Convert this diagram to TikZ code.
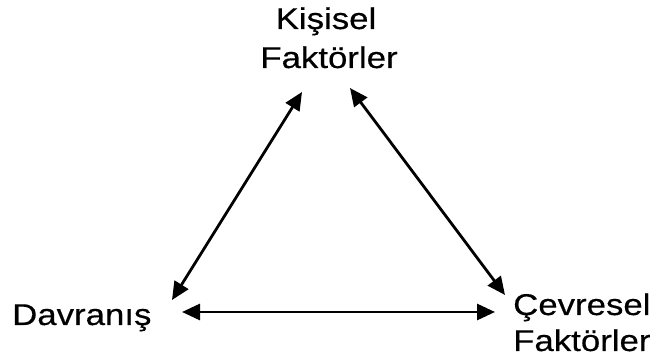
\documentclass[tikz,border=0pt]{standalone}
\usepackage{fontspec}
\setmainfont{Liberation Sans}[FakeStretch=1.16,FakeBold=0.4]
\usetikzlibrary{arrows.meta}
\begin{document}
\begin{tikzpicture}[x=1pt,y=-1pt,
  label text/.style={inner sep=0pt,font=\fontsize{30}{36}\selectfont,text=black},
  link/.style={line width=2.8pt,{Triangle[length=18pt,width=16pt]}-{Triangle[length=18pt,width=16pt]}}]
\useasboundingbox (0,0) rectangle (654,358);

% top corner: personal factors
\node[label text,anchor=base] (k1) at (326,29) {Kişisel};
\node[label text,anchor=base] (k2) at (329,68) {Faktörler};
% bottom left: behaviour
\node[label text,anchor=base west] (d) at (12,325) {Davranış};
% bottom right: environmental factors
\node[label text,anchor=base west] (c1) at (513,315) {Çevresel};
\node[label text,anchor=base west] (c2) at (513,351) {Faktörler};

% arrow ends around the triangle
\coordinate (kL) at (302,92);
\coordinate (kR) at (350,88);
\coordinate (dU) at (172,300);
\coordinate (dR) at (182,312);
\coordinate (cU) at (505,295);
\coordinate (cL) at (495,312);

\draw[link] (kL) -- (dU);
\draw[link] (kR) -- (cU);
\draw[link] (dR) -- (cL);
\end{tikzpicture}
\end{document}
